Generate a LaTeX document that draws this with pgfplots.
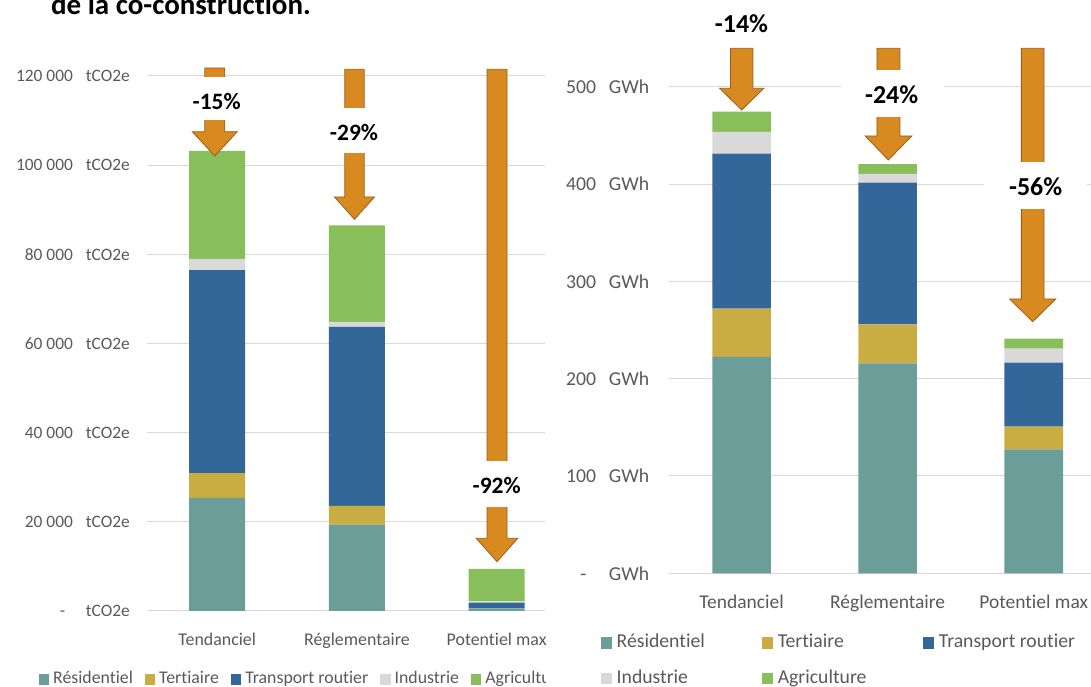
\documentclass[border=0pt]{standalone}
\usepackage{fontspec}
\setmainfont[Ligatures=NoCommon]{Carlito}
\usepackage{pgfplots}
\pgfplotsset{compat=1.18}
\definecolor{cres}{RGB}{107,157,153}
\definecolor{cter}{RGB}{201,173,67}
\definecolor{ctra}{RGB}{51,103,154}
\definecolor{cind}{RGB}{217,217,217}
\definecolor{cagr}{RGB}{136,191,91}
\definecolor{corg}{RGB}{216,138,33}
\definecolor{corgd}{RGB}{150,95,25}
\definecolor{cgrid}{RGB}{217,217,217}
\definecolor{ctxt}{RGB}{89,89,89}
\newcommand{\ltk}[1]{\makebox[60bp][r]{#1}\hspace{13bp}tCO2e}
\newcommand{\rtk}[1]{\makebox[40bp][r]{#1}\hspace{13bp}GWh}
% block arrow: xc, shaft half width, top y, head start y, head half width, tip y (pixel coords, y down)
\newcommand{\arr}[6]{\filldraw[fill=corg,draw=corgd,line width=0.8bp]
  ({#1-#2},{687-#3}) -- ({#1+#2},{687-#3}) -- ({#1+#2},{687-#4}) -- ({#1+#5},{687-#4})
  -- ({#1},{687-#6}) -- ({#1-#5},{687-#4}) -- ({#1-#2},{687-#4}) -- cycle;}
\newcommand{\wbox}[4]{\fill[white] (#1,{687-#2}) rectangle (#3,{687-#4});}
\pgfplotsset{sqlegL/.style={legend image code/.code={\fill[##1] (0bp,-5.2bp) rectangle (10.4bp,5.2bp);}},
  sqlegR/.style={legend image code/.code={\fill[##1] (0bp,-5.75bp) rectangle (11.5bp,5.75bp);}}}
\begin{document}
\begin{tikzpicture}[x=1bp,y=1bp]
\useasboundingbox (0,0) rectangle (1091,687);
% ---------- left chart ----------
\begin{scope}
\clip (0,0) rectangle (545,687);
\begin{axis}[
  at={(147.35bp,76bp)}, anchor=south west, scale only axis,
  width=419.1bp, height=535bp,
  ybar stacked, bar width=56bp,
  xmin=-0.5, xmax=2.5, ymin=0, ymax=120000,
  xtick={0,1,2}, xticklabels={Tendanciel,Réglementaire,Potentiel max},
  ytick={0,20000,40000,60000,80000,100000,120000},
  yticklabels={\ltk{-\hspace{7.7bp}},\ltk{20 000},\ltk{40 000},\ltk{60 000},\ltk{80 000},\ltk{100 000},\ltk{120 000}},
  scaled y ticks=false,
  axis line style={draw=none}, major tick length=0pt,
  ymajorgrids, grid style={cgrid, line width=1bp},
  yticklabel style={font=\fontsize{17.4bp}{20bp}\selectfont, text=ctxt, anchor=east, inner sep=0pt, xshift=-17.3bp},
  xticklabel style={font=\fontsize{17.9bp}{20bp}\selectfont, text=ctxt, anchor=base, inner sep=0pt, yshift=-35bp},
  legend columns=-1,
  legend cell align=left,
  legend style={at={(-0.2595,-0.1280)}, anchor=west, draw=none, fill=none, inner sep=0pt,
    font=\fontsize{17.8bp}{20bp}\selectfont, text=ctxt,
    nodes={inner sep=0pt, text height=13bp, text depth=4bp},
    /tikz/every odd column/.append style={column sep=4bp},
    /tikz/every even column/.append style={column sep=12bp}},
]
\addplot[fill=cres, draw=none, sqlegL] coordinates {(0,25400) (1,19350) (2,600)};
\addlegendentry{Résidentiel}
\addplot[fill=cter, draw=none, sqlegL] coordinates {(0,5500) (1,4250) (2,50)};
\addlegendentry{Tertiaire}
\addplot[fill=ctra, draw=none, sqlegL] coordinates {(0,45560) (1,40140) (2,1200)};
\addlegendentry{Transport routier}
\addplot[fill=cind, draw=none, sqlegL] coordinates {(0,2540) (1,1130) (2,300)};
\addlegendentry{Industrie}
\addplot[fill=cagr, draw=none, sqlegL] coordinates {(0,24200) (1,21610) (2,7270)};
\addlegendentry{Agriculture}
\end{axis}
\end{scope}
% ---------- right chart ----------
\begin{axis}[
  at={(668.5bp,113.7bp)}, anchor=south west, scale only axis,
  width=438.3bp, height=486.6bp,
  ybar stacked, bar width=58.6bp,
  xmin=-0.5, xmax=2.5, ymin=0, ymax=500,
  xtick={0,1,2}, xticklabels={Tendanciel,Réglementaire,Potentiel max},
  ytick={0,100,200,300,400,500},
  yticklabels={\rtk{-\hspace{9.5bp}},\rtk{100},\rtk{200},\rtk{300},\rtk{400},\rtk{500}},
  axis line style={draw=none}, major tick length=0pt,
  ymajorgrids, grid style={cgrid, line width=1bp},
  yticklabel style={font=\fontsize{19.7bp}{22bp}\selectfont, text=ctxt, anchor=east, inner sep=0pt, xshift=-19.1bp},
  xticklabel style={font=\fontsize{19.5bp}{22bp}\selectfont, text=ctxt, anchor=base, inner sep=0pt, yshift=-35bp},
  legend columns=3,
  legend cell align=left,
  legend style={at={(-0.1554,-0.1241)}, anchor=north west, draw=none, fill=none, inner sep=0pt,
    font=\fontsize{19.7bp}{22bp}\selectfont, text=ctxt,
    nodes={inner sep=0pt, text height=14bp, text depth=4.5bp},
    row sep=17.1bp,
    /tikz/every odd column/.append style={column sep=4.6bp}},
]
\addplot[fill=cres, draw=none, sqlegR] coordinates {(0,222.3) (1,215.8) (2,127.4)};
\addlegendentry{\makebox[145bp][l]{Résidentiel}}
\addplot[fill=cter, draw=none, sqlegR] coordinates {(0,49.7) (1,40.1) (2,23.3)};
\addlegendentry{\makebox[145bp][l]{Tertiaire}}
\addplot[fill=ctra, draw=none, sqlegR] coordinates {(0,159.3) (1,145.6) (2,65.8)};
\addlegendentry{\makebox[145bp][l]{Transport routier}}
\addplot[fill=cind, draw=none, sqlegR] coordinates {(0,22.2) (1,8.9) (2,14.3)};
\addlegendentry{\makebox[145bp][l]{Industrie}}
\addplot[fill=cagr, draw=none, sqlegR] coordinates {(0,20.9) (1,10.0) (2,10.3)};
\addlegendentry{\makebox[145bp][l]{Agriculture}}
\end{axis}
% ---------- arrows and labels ----------
\arr{214.8}{10}{68}{131.7}{22.5}{156}
\arr{354.5}{9.7}{69.3}{197}{20}{219.3}
\arr{497}{10}{69.3}{538.3}{20.8}{561.7}
\arr{741.7}{11.2}{48.3}{88.3}{22.1}{110}
\arr{888.4}{11.5}{48.3}{136}{23.3}{160}
\arr{1032.7}{11.35}{48.3}{299}{23.1}{321.7}
\wbox{170}{77}{260}{120}
\wbox{310}{108.3}{400}{153.3}
\wbox{452}{461}{542}{507}
\wbox{841}{70}{944.4}{117.3}
\wbox{983.8}{161.7}{1086.6}{209.3}
\begin{scope}[every node/.style={inner sep=0pt, font=\bfseries\fontsize{23.5bp}{26bp}\selectfont}]
\node at (216.7,{687-101.7}) {-15\%};
\node at (354,{687-132.7}) {-29\%};
\node at (496.7,{687-486}) {-92\%};
\end{scope}
\begin{scope}[every node/.style={inner sep=0pt, font=\bfseries\fontsize{25.9bp}{28bp}\selectfont}]
\node at (741.5,{687-24}) {-14\%};
\node at (891.6,{687-95}) {-24\%};
\node at (1035.7,{687-186.7}) {-56\%};
\end{scope}
\node[anchor=base west, inner sep=0pt, font=\bfseries\fontsize{29bp}{32bp}\selectfont] at (50.9,672) {de la co-construction.};
\end{tikzpicture}
\end{document}
